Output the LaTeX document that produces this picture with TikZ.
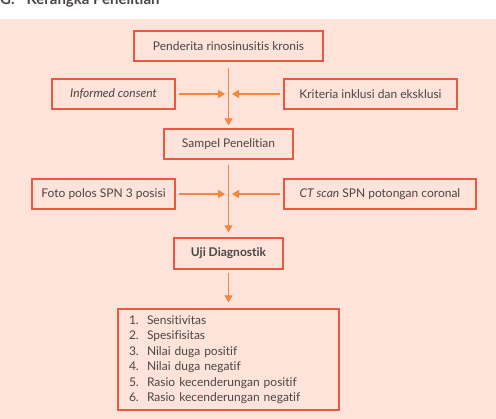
\documentclass[tikz,border=0pt]{standalone}
\usepackage{xcolor}
\usepackage{fontspec}
\setmainfont{Lato}[Ligatures={NoCommon,NoRare}]
\usepackage{tikz}
\usetikzlibrary{arrows.meta}

\definecolor{latar}{HTML}{FDE3DA}
\definecolor{garis}{HTML}{EC5843}
\definecolor{panah}{HTML}{F4873D}
\definecolor{teks}{HTML}{4B4545}

\begin{document}
\begin{tikzpicture}[x=1pt,y=-1pt,
		kotak/.style={draw=garis,line width=1.3pt,fill=latar,text=teks,font=\fontsize{12}{15.5}\selectfont,minimum height=30pt,inner sep=0pt},
		arr/.style={draw=panah,line width=1.1pt,-{Triangle[length=7pt,width=8pt]}}]
			
			\useasboundingbox (0,0) rectangle (496,419);
			\fill[latar] (0,19) rectangle (496,419);
			\node[anchor=base west,font=\bfseries\fontsize{15}{18}\selectfont,text=teks,inner sep=0pt] (judul) at (0,5) {G.\hspace{12pt}Kerangka Penelitian};
			
			\node[kotak,minimum width=189pt] (1) at (228.5,46) {Penderita rinosinusitis kronis};
			\node[kotak,minimum width=123pt] (2) at (113.5,94) {\itshape Informed consent};
			\node[kotak,minimum width=173pt] (3) at (370.5,94) {Kriteria inklusi dan eksklusi};
			\node[kotak,minimum width=129pt] (4) at (228.5,144) {Sampel Penelitian};
			\node[kotak,minimum width=143pt] (5) at (103.5,194) {Foto polos SPN 3 posisi};
			\node[kotak,minimum width=192pt] (6) at (380,194) {\textit{CT scan} SPN potongan coronal};
			\node[kotak,minimum width=109pt,minimum height=31pt,font=\bfseries\fontsize{12}{15.5}\selectfont] (7) at (228.5,253.5) {Uji Diagnostik};
			\node[kotak,minimum width=221pt,minimum height=101pt,text width=199pt,align=left] (8) at (228.5,359.5) {%
				\makebox[18pt][l]{1.}Sensitivitas\\
				\makebox[18pt][l]{2.}Spesifisitas\\
				\makebox[18pt][l]{3.}Nilai duga positif\\
				\makebox[18pt][l]{4.}Nilai duga negatif\\
				\makebox[18pt][l]{5.}Rasio kecenderungan positif\\
				\makebox[18pt][l]{6.}Rasio kecenderungan negatif};
			
			\coordinate (m1) at (228.5,94);
			\coordinate (m2) at (228.5,194);
			
			\draw[arr,shorten <=6pt,shorten >=3pt] (1) -- (4);
			\draw[arr,shorten <=3pt,shorten >=3.5pt] (2) -- (m1);
			\draw[arr,shorten <=3pt,shorten >=3.5pt] (3) -- (m1);
			\draw[arr,shorten <=5pt,shorten >=5pt] (4) -- (7);
			\draw[arr,shorten <=3pt,shorten >=3.5pt] (5) -- (m2);
			\draw[arr,shorten <=3pt,shorten >=3.5pt] (6) -- (m2);
			\draw[arr,shorten <=3pt,shorten >=6pt] (7) -- (8);
			
		\end{tikzpicture}
\end{document}
